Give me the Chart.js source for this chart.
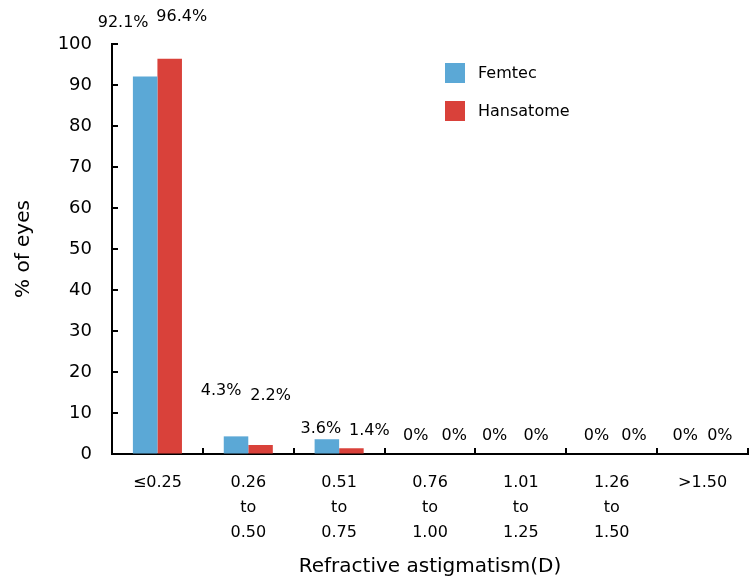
<!DOCTYPE html>
<html>
<head>
<meta charset="utf-8">
<script src="https://cdn.jsdelivr.net/npm/chart.js@4/dist/chart.umd.min.js"></script>
<style>
  html, body { margin: 0; padding: 0; background: #fff; }
  #wrap { width: 755px; height: 585px; }
</style>
</head>
<body>
<div id="wrap"><canvas id="myChart"></canvas></div>
<script>
const categories = [["≤0.25"], ["0.26", "to", "0.50"], ["0.51", "to", "0.75"], ["0.76", "to", "1.00"], ["1.01", "to", "1.25"], ["1.26", "to", "1.50"], [">1.50"]]
const femtec = [92.1, 4.3, 3.6, 0, 0, 0, 0]
const hansatome = [96.4, 2.2, 1.4, 0, 0, 0, 0]
const yTicks = [0, 10, 20, 30, 40, 50, 60, 70, 80, 90, 100]

const blue = "#5ba8d6"
const red = "#d9413a"
const font = "'DejaVu Sans', Verdana, sans-serif"

// value labels above the bars
const valueLabels = {
    id: "valueLabels",
    afterDatasetsDraw(chart, args, opts) {
        const ctx = chart.ctx
        ctx.save()
        ctx.fillStyle = "#000"
        ctx.font = "16px " + font
        ctx.textAlign = "center"
        ctx.textBaseline = "middle"
        chart.data.datasets.forEach((ds, di) => {
            chart.getDatasetMeta(di).data.forEach((bar, i) => {
                ctx.fillText(ds.data[i] + "%", bar.x + opts.dx[di][i], bar.y - opts.lift[di][i])
            })
        })
        ctx.restore()
    }
}

// short tick marks pointing into the plot
const innerTicks = {
    id: "innerTicks",
    afterDraw(chart) {
        const ctx = chart.ctx
        const area = chart.chartArea
        const x = chart.scales.x
        const y = chart.scales.y
        ctx.save()
        ctx.strokeStyle = "#000"
        ctx.lineWidth = 2
        ctx.beginPath()
        yTicks.forEach(v => {
            const py = Math.round(y.getPixelForValue(v))
            ctx.moveTo(area.left, py)
            ctx.lineTo(area.left + 6, py)
        })
        const step = x.getPixelForValue(1) - x.getPixelForValue(0)
        for (let i = 0; i < categories.length; i++) {
            const px = Math.round(x.getPixelForValue(i) + step / 2)
            ctx.moveTo(px, area.bottom)
            ctx.lineTo(px, area.bottom - 6)
        }
        ctx.stroke()
        ctx.restore()
    }
}

// vertical legend in the upper right
const boxLegend = {
    id: "boxLegend",
    afterDraw(chart, args, opts) {
        const ctx = chart.ctx
        ctx.save()
        ctx.font = "16px " + font
        ctx.textBaseline = "middle"
        chart.data.datasets.forEach((ds, i) => {
            const y = opts.y + i * opts.gap
            ctx.fillStyle = ds.backgroundColor
            ctx.fillRect(opts.x, y, 20, 20)
            ctx.fillStyle = "#000"
            ctx.fillText(ds.label, opts.x + 33, y + 11)
        })
        ctx.restore()
    }
}

let ctx = document.getElementById("myChart")
let chart = new Chart(ctx, {
    type: "bar",
    data: {
        labels: categories,
        datasets: [
            { label: "Femtec", data: femtec, backgroundColor: blue },
            { label: "Hansatome", data: hansatome, backgroundColor: red }
        ]
    },
    options: {
        responsive: true,
        maintainAspectRatio: false,
        animation: false,
        layout: { padding: { top: 44, right: 7, left: 0, bottom: 0 } },
        categoryPercentage: 0.54,
        barPercentage: 1.0,
        scales: {
            x: {
                grid: { drawOnChartArea: false, drawTicks: false },
                border: { color: "#000", width: 2 },
                ticks: { color: "#000", font: { family: font, size: 16, lineHeight: 1.56 }, padding: 16, maxRotation: 0, autoSkip: false },
                title: { display: true, text: "Refractive astigmatism(D)", color: "#000", font: { family: font, size: 20 }, padding: { top: 0, bottom: 6 } },
                afterFit(scale) { scale.height = 131 }
            },
            y: {
                min: 0,
                max: 100,
                afterBuildTicks(scale) { scale.ticks = yTicks.map(v => ({ value: v })) },
                grid: { drawOnChartArea: false, drawTicks: false },
                border: { color: "#000", width: 2 },
                ticks: { color: "#000", font: { family: font, size: 18 }, padding: 20 },
                title: { display: true, text: "% of eyes", color: "#000", font: { family: font, size: 20 }, padding: { top: 12, bottom: 0 } },
                afterFit(scale) { scale.width = 112 }
            }
        },
        plugins: {
            legend: { display: false },
            tooltip: { enabled: false },
            valueLabels: {
                dx: [[-22, -15, -6, -2, -14, -3, -5], [12, 10, 18, 12, 3, 10, 5]],
                lift: [[54, 46, 10, 18, 18, 18, 18], [42, 49, 17, 18, 18, 18, 18]]
            },
            boxLegend: { x: 445, y: 63, gap: 38 }
        }
    },
    plugins: [valueLabels, innerTicks, boxLegend]
})
</script>
</body>
</html>
